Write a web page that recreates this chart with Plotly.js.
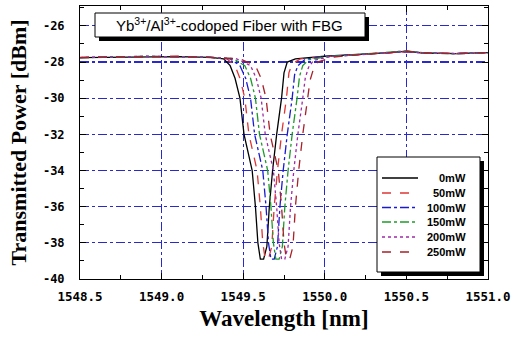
<!DOCTYPE html>
<html>
<head>
<meta charset="utf-8">
<script src="https://cdn.plot.ly/plotly-3.0.1.min.js"></script>
<style>html,body{margin:0;padding:0;background:#fff;}#chart{width:511px;height:338px;}</style>
</head>
<body>
<div id="chart"></div>
<script>
// ---- data ----
const seriesNames = ["0mW", "50mW", "100mW", "150mW", "200mW", "250mW"];

const wl0 = [1548.50, 1548.70, 1548.90, 1549.10, 1549.30, 1549.38, 1549.42, 1549.45, 1549.48, 1549.505, 1549.53, 1549.555, 1549.575, 1549.59, 1549.605, 1549.625, 1549.645, 1549.66, 1549.68, 1549.705, 1549.735, 1549.75, 1549.77, 1549.82, 1550.00, 1550.20, 1550.40, 1550.50, 1550.60, 1550.80, 1551.00];
const p0  = [-27.75, -27.73, -27.68, -27.70, -27.74, -27.82, -28.2, -28.9, -30.0, -32.0, -33.0, -34.0, -36.0, -38.0, -38.9, -38.9, -38.2, -36.0, -34.0, -32.0, -30.0, -28.6, -28.0, -27.82, -27.68, -27.60, -27.48, -27.40, -27.50, -27.53, -27.48];

const wl1 = [1548.50, 1548.70, 1548.90, 1549.10, 1549.30, 1549.40, 1549.45, 1549.48, 1549.51, 1549.535, 1549.56, 1549.585, 1549.605, 1549.62, 1549.635, 1549.655, 1549.675, 1549.69, 1549.71, 1549.735, 1549.765, 1549.78, 1549.80, 1549.85, 1550.00, 1550.20, 1550.40, 1550.50, 1550.60, 1550.80, 1551.00];
const p1  = [-27.77, -27.71, -27.70, -27.68, -27.74, -27.82, -28.2, -28.9, -30.0, -32.0, -33.0, -34.0, -36.0, -38.0, -38.9, -38.9, -38.2, -36.0, -34.0, -32.0, -30.0, -28.6, -28.1, -27.83, -27.70, -27.58, -27.50, -27.43, -27.48, -27.54, -27.50];

const wl2 = [1548.50, 1548.70, 1548.90, 1549.10, 1549.30, 1549.42, 1549.48, 1549.515, 1549.545, 1549.57, 1549.595, 1549.62, 1549.64, 1549.655, 1549.67, 1549.69, 1549.71, 1549.725, 1549.745, 1549.77, 1549.80, 1549.815, 1549.835, 1549.88, 1550.00, 1550.20, 1550.40, 1550.50, 1550.60, 1550.80, 1551.00];
const p2  = [-27.75, -27.72, -27.69, -27.71, -27.73, -27.82, -28.2, -28.9, -30.0, -32.0, -33.0, -34.0, -36.0, -38.0, -38.9, -38.9, -38.2, -36.0, -34.0, -32.0, -30.0, -28.7, -28.2, -27.84, -27.70, -27.60, -27.48, -27.42, -27.50, -27.53, -27.48];

const wl3 = [1548.50, 1548.70, 1548.90, 1549.10, 1549.30, 1549.44, 1549.51, 1549.545, 1549.575, 1549.60, 1549.625, 1549.65, 1549.67, 1549.685, 1549.70, 1549.72, 1549.74, 1549.755, 1549.775, 1549.80, 1549.83, 1549.845, 1549.865, 1549.90, 1550.00, 1550.20, 1550.40, 1550.50, 1550.60, 1550.80, 1551.00];
const p3  = [-27.76, -27.71, -27.69, -27.70, -27.74, -27.82, -28.2, -28.9, -30.0, -32.0, -33.0, -34.0, -36.0, -38.0, -38.9, -38.9, -38.2, -36.0, -34.0, -32.0, -30.0, -28.8, -28.2, -27.88, -27.72, -27.59, -27.48, -27.38, -27.50, -27.54, -27.49];

const wl4 = [1548.50, 1548.70, 1548.90, 1549.10, 1549.30, 1549.46, 1549.545, 1549.58, 1549.61, 1549.635, 1549.66, 1549.685, 1549.705, 1549.72, 1549.735, 1549.755, 1549.775, 1549.79, 1549.81, 1549.835, 1549.865, 1549.88, 1549.90, 1549.93, 1550.02, 1550.20, 1550.40, 1550.50, 1550.60, 1550.80, 1551.00];
const p4  = [-27.75, -27.72, -27.68, -27.71, -27.74, -27.82, -28.2, -28.9, -30.0, -32.0, -33.0, -34.0, -36.0, -38.0, -38.9, -38.9, -38.2, -36.0, -34.0, -32.0, -30.0, -28.9, -28.3, -27.92, -27.72, -27.60, -27.49, -27.41, -27.50, -27.53, -27.48];

const wl5 = [1548.50, 1548.70, 1548.90, 1549.10, 1549.30, 1549.48, 1549.575, 1549.61, 1549.64, 1549.665, 1549.69, 1549.715, 1549.735, 1549.75, 1549.765, 1549.785, 1549.805, 1549.82, 1549.84, 1549.865, 1549.895, 1549.91, 1549.93, 1549.96, 1550.05, 1550.20, 1550.40, 1550.50, 1550.60, 1550.80, 1551.00];
const p5  = [-27.74, -27.73, -27.69, -27.69, -27.75, -27.82, -28.2, -28.9, -30.0, -32.0, -33.0, -34.0, -36.0, -38.0, -38.9, -38.9, -38.2, -36.0, -34.0, -32.0, -30.0, -29.0, -28.4, -27.98, -27.73, -27.60, -27.48, -27.40, -27.50, -27.53, -27.48];

const xTickVals = [1548.5, 1549.0, 1549.5, 1550.0, 1550.5, 1551.0];
const xTickText = ["1548.5", "1549.0", "1549.5", "1550.0", "1550.5", "1551.0"];
const yTickVals = [-40, -38, -36, -34, -32, -30, -28, -26];
const yTickText = ["-40", "-38", "-36", "-34", "-32", "-30", "-28", "-26"];

// ---- styles ----
const colors = ["#000000", "#e03535", "#1a1ad0", "#1f9a2a", "#a02aa8", "#a8202a"];
const dashes = ["solid", "dash", "dashdot", "dashdot", "dot", "dash"];

const xs = [wl0, wl1, wl2, wl3, wl4, wl5];
const ys = [p0, p1, p2, p3, p4, p5];

const traces = xs.map((x, i) => ({
  type: "scatter", mode: "lines", x: x, y: ys[i], name: seriesNames[i],
  line: {color: colors[i], width: 1.3, dash: dashes[i]},
  showlegend: false, hoverinfo: "skip"
}));

// pixel helpers for decorations (plot area: x 80..488, y 6..279)
const L = 80, R = 488, T = 6, B = 279;
const X = px => (px - L) / (R - L);
const Y = py => (B - py) / (B - T);

const shapes = [];
const annotations = [];

// title box with shadow
shapes.push({type: "rect", xref: "paper", yref: "paper", x0: X(99), x1: X(369), y0: Y(41), y1: Y(17), fillcolor: "#000", line: {width: 0}, layer: "above"});
shapes.push({type: "rect", xref: "paper", yref: "paper", x0: X(95), x1: X(365), y0: Y(37), y1: Y(13), fillcolor: "#fff", line: {color: "#000", width: 1}, layer: "above"});
annotations.push({xref: "paper", yref: "paper", x: X(229), y: Y(25), xanchor: "center", yanchor: "middle", showarrow: false,
  text: "Yb<sup>3+</sup>/Al<sup>3+</sup>-codoped Fiber with FBG",
  font: {family: "Liberation Sans, Arial, sans-serif", size: 15, color: "#000"}});

// legend box with shadow
shapes.push({type: "rect", xref: "paper", yref: "paper", x0: X(381), x1: X(484), y0: Y(276), y1: Y(161), fillcolor: "#000", line: {width: 0}, layer: "above"});
shapes.push({type: "rect", xref: "paper", yref: "paper", x0: X(377), x1: X(480), y0: Y(272), y1: Y(157), fillcolor: "#fff", line: {color: "#000", width: 1}, layer: "above"});
const rowY = [178, 193, 207.5, 222, 237, 252];
seriesNames.forEach((nm, i) => {
  shapes.push({type: "line", xref: "paper", yref: "paper", x0: X(382), x1: X(418), y0: Y(rowY[i]), y1: Y(rowY[i]),
    line: {color: colors[i], width: 1.3, dash: dashes[i]}, layer: "above"});
  annotations.push({xref: "paper", yref: "paper", x: X(468), y: Y(rowY[i]), xanchor: "right", yanchor: "middle", showarrow: false,
    text: nm, font: {family: "Liberation Sans, Arial, sans-serif", size: 11, color: "#000", weight: "bold"}});
});

const layout = {
  width: 511, height: 338,
  margin: {l: L, r: 511 - R, t: T, b: 338 - B, pad: 0},
  paper_bgcolor: "#fff", plot_bgcolor: "#fff",
  showlegend: false,
  xaxis: {
    range: [1548.5, 1551.0], tickmode: "array", tickvals: xTickVals, ticktext: xTickText,
    ticks: "inside", ticklen: 6, tickcolor: "#000", tickwidth: 1,
    minor: {dtick: 0.25, tick0: 1548.5, ticks: "inside", ticklen: 4, tickcolor: "#000", showgrid: false},
    showline: true, linecolor: "#000", linewidth: 1, mirror: "allticks",
    showgrid: true, gridcolor: "#2a2acc", gridwidth: 1.2, griddash: "dashdot",
    zeroline: false, ticklabelstandoff: 6,
    tickfont: {family: "DejaVu Sans Mono, monospace", size: 12.5, color: "#000", weight: "bold"},
    title: {text: "Wavelength [nm]", standoff: 6,
      font: {family: "Liberation Serif, Times New Roman, serif", size: 23, color: "#000", weight: "bold"}}
  },
  yaxis: {
    range: [-40, -24.9], tickmode: "array", tickvals: yTickVals, ticktext: yTickText,
    ticks: "inside", ticklen: 6, tickcolor: "#000", tickwidth: 1,
    minor: {dtick: 1, tick0: -40, ticks: "inside", ticklen: 4, tickcolor: "#000", showgrid: false},
    showline: true, linecolor: "#000", linewidth: 1, mirror: "allticks",
    showgrid: true, gridcolor: "#2a2acc", gridwidth: 1.2, griddash: "dashdot",
    zeroline: false, ticklabelstandoff: 12,
    tickfont: {family: "DejaVu Sans Mono, monospace", size: 12, color: "#000", weight: "bold"},
    title: {text: "Transmitted Power [dBm]", standoff: 10,
      font: {family: "Liberation Serif, Times New Roman, serif", size: 22, color: "#000", weight: "bold"}}
  },
  shapes: shapes,
  annotations: annotations
};

Plotly.newPlot("chart", traces, layout, {staticPlot: true, displayModeBar: false});
</script>
</body>
</html>
